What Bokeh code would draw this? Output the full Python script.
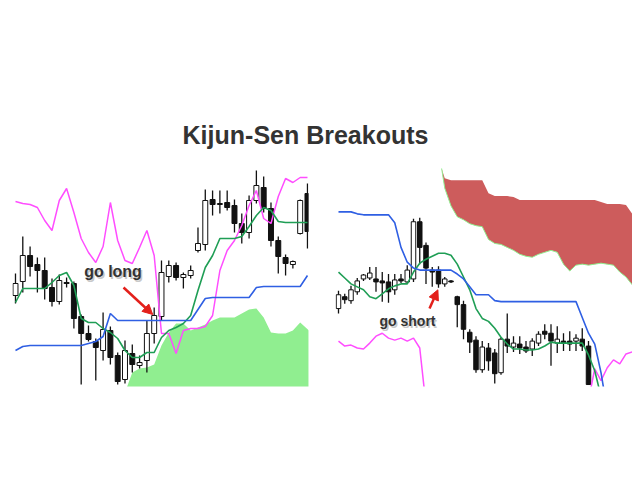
import math
import numpy as np
from bokeh.plotting import figure
from bokeh.layouts import column, row
from bokeh.models import Range1d, Label, Arrow, NormalHead
from bokeh.embed import file_html
from bokeh.resources import INLINE

nan = math.nan

TITLE = "Kijun-Sen Breakouts"
LONG_TEXT = "go long"
SHORT_TEXT = "go short"

# ---------------- Left chart: breakout up (bars 0..40) ----------------
L_open = [105, 119, 145, 136, 130, 113, 99, 118, 117, 84, 67, 59, 50, 70, 45, 21, 47, 35, 40, 67,
          84, 124, 135, 123, 125, 150, 156, 201, 196, 198, 195, 177, 168, 200, 213, 192, 160, 143, 136, 167, 207]
L_high = [127, 164, 154, 143, 143, 122, 126, 123, 119, 86, 75, 62, 88, 74, 48, 60, 56, 45, 80, 93,
          140, 140, 138, 128, 135, 173, 211, 210, 210, 210, 201, 187, 205, 230, 224, 198, 164, 146, 140, 201, 217]
L_low = [97, 108, 124, 108, 101, 94, 96, 113, 72, 16, 59, 20, 40, 36, 16, 17, 28, 32, 28, 57,
         80, 118, 120, 112, 122, 148, 150, 185, 187, 190, 168, 157, 162, 197, 188, 154, 127, 125, 132, 166, 152]
L_close = [117, 145, 134, 130, 112, 99, 120, 117, 82, 67, 61, 53, 71, 43, 19, 50, 36, 38, 67, 85,
           128, 135, 123, 126, 130, 157, 200, 196, 197, 193, 177, 168, 200, 215, 192, 160, 144, 137, 139, 200, 169]
L_kijun = [50, 54, 55, 55, 55, 55, 55, 55, 55, 55, 57, 59, 64, 87, 80, 80, 80, 80, 80, 80,
           80, 80, 80, 80, 80, 91, 102, 103, 103, 103, 103, 103, 103, 113, 114, 114, 114, 114, 114, 114, 125]
L_tenkan = [98, 112, 112, 112, 112, 118, 125, 128, 115, 82, 78, 78, 72, 68, 62, 50, 43, 43, 48, 48,
            63, 70, 73, 77, 85, 110, 133, 145, 162, 162, 162, 164, 174, 185, 193, 190, 179, 178, 178, 178, 178]
L_chikou = [199, 197, 196, 193, 180, 170, 200, 212, 188, 162, 148, 138, 154, 198, 160, 140, 137, 153, 170, 145,
            67, 67, 47, 70, 72, 72, 74, 85, 130, 150, 160, 175, 195, 210, 182, 177, 204, 222, 218, 223, 223]
L_cloud_x = [15.3, 16, 17, 18, 19, 20, 21, 22, 23, 24, 25, 26, 27, 28, 29, 30, 31, 32, 33, 34,
             35, 36, 37, 38, 39, 40.2]
L_cloud_top = [14, 28, 32, 33, 36, 55, 68, 77, 77, 70, 73, 76, 80, 83, 83, 83, 87, 91, 92, 83,
               68, 67, 67, 70, 78, 70]
L_cloud_floor = 0
long_arrow_from = (14.8, 113)
long_arrow_to = (18.8, 86)
long_label_at = (13.36, 129)

# ---------------- Right chart: breakdown (bars 0..40, lines run ahead) ----------------
R_open = [93, 105, 101, 110, 123, 124, 123, 121, 120, 112, 123, 120, 123, 181, 157, 132, 132, 118, 121, 105,
          97, 69, 61, 31, 53, 48, 28, 62, 54, 57, 54, 52, 58, 70, 68, 58, 60, 60, 60, 62, 55]
R_high = [111, 108, 116, 124, 128, 135, 135, 130, 128, 128, 128, 137, 184, 185, 160, 135, 136, 125, 122, 106,
          101, 72, 65, 60, 58, 52, 64, 88, 65, 65, 60, 63, 70, 77, 77, 75, 68, 70, 67, 73, 60]
R_low = [88, 98, 98, 107, 121, 122, 110, 100, 99, 107, 119, 118, 120, 138, 118, 115, 114, 115, 119, 74,
         62, 48, 28, 28, 30, 17, 26, 48, 49, 47, 48, 45, 55, 62, 35, 48, 50, 50, 50, 50, 16]
R_close = [107, 102, 112, 121, 127, 129, 120, 119, 110, 122, 121, 132, 181, 155, 134, 130, 118, 123, 120, 97,
           72, 59, 31, 54, 40, 27, 62, 55, 58, 53, 50, 60, 67, 67, 60, 62, 58, 57, 63, 55, 16]
R_kijun = [191, 191, 191, 189, 188, 188, 188, 188, 188, 180, 155, 140, 134, 132, 132, 132, 132, 132, 132, 128,
           123, 115, 107, 107, 107, 101, 100, 100, 100, 100, 100, 100, 100, 100, 100, 100, 100, 100, 100, 84,
           68, 57, 28, -10]
R_tenkan = [130, 124, 118, 115, 112, 105, 103, 108, 113, 116, 118, 118, 130, 139, 143, 146, 149, 149, 147, 138,
            125, 112, 93, 83, 80, 73, 64, 57, 52, 52, 51, 51, 52, 55, 59, 58, 58, 58, 58, 58,
            46, 30, 4]
R_chikou = [60, 55, 56, 53, 52, 58, 65, 68, 63, 61, 63, 60, 63, 53, -5,
            nan, nan, nan, nan, nan, nan, nan, nan, nan, nan, nan, nan, nan, nan, nan,
            nan, nan, nan, nan, nan, nan, nan, nan, nan, nan,
            0, 32, 20, 33, 41, 37, 47, 49]
R_cloud_x = [16.5, 17, 18, 19, 20, 21, 22, 23, 24, 25, 26, 27, 28, 29, 30, 31, 32, 33, 34, 35,
             36, 37, 38, 39, 40, 41, 42, 43, 44, 45, 46, 47]
R_cloud_top = [235, 225, 223, 223, 223, 223, 223, 223, 210, 207, 207, 207, 206, 203, 203, 203, 203, 203, 203, 203,
               203, 203, 203, 203, 203, 203, 201, 199, 199, 199, 198, 189]
R_cloud_bottom = [235, 215, 197, 186, 183, 179, 177, 176, 163, 159, 158, 155, 152, 148, 146, 145, 148, 150, 152, 150,
                  138, 131, 137, 138, 137, 138, 139, 138, 137, 130, 125, 117]
short_arrow_from = (14.56, 93)
short_arrow_to = (15.9, 112)
short_label_at = (11.04, 80)

# ---------------- styles ----------------
FONT = "Liberation Sans"
BLUE = "#2f5fe3"
GREEN = "#1f9e55"
MAGENTA = "#ff4dff"
RED_CLOUD = "#cd5c5c"
LIGHT_GREEN = "#90ee90"
ARROW_RED = "#e3201b"
INK = "#111111"


def base_fig(w, h, xr, yr, ml, mr, mt, mb):
    p = figure(width=w, height=h, x_range=Range1d(*xr), y_range=Range1d(*yr),
               x_axis_type=None, y_axis_type=None, output_backend="svg",
               toolbar_location=None, min_border_left=ml, min_border_right=mr,
               min_border_top=mt, min_border_bottom=mb)
    p.grid.visible = False
    p.outline_line_color = None
    p.background_fill_color = "white"
    p.border_fill_color = "white"
    return p


def candles(p, o, h, l, c, width):
    o, h, l, c = (np.array(a, dtype=float) for a in (o, h, l, c))
    x = np.arange(len(o))
    up = c > o
    p.segment(x, h, x, l, line_color=INK, line_width=1.3)
    p.vbar(x=x[up], width=width, bottom=o[up], top=c[up], fill_color="white",
           line_color=INK, line_width=1)
    p.vbar(x=x[~up], width=width, bottom=c[~up], top=o[~up], fill_color=INK,
           line_color=INK, line_width=1)


def tag(p, text, at, size):
    shadow = Label(x=at[0], y=at[1], text=text, text_font=FONT, text_font_style="bold",
                   text_font_size=size, text_color="#9a9a9a", text_alpha=0.55,
                   text_align="center", text_baseline="alphabetic", x_offset=1.5, y_offset=-2)
    main = Label(x=at[0], y=at[1], text=text, text_font=FONT, text_font_style="bold",
                 text_font_size=size, text_color="#333333",
                 text_align="center", text_baseline="alphabetic")
    p.add_layout(shadow)
    p.add_layout(main)


def arrow(p, a, b):
    p.add_layout(Arrow(end=NormalHead(size=10, fill_color=ARROW_RED, line_color=ARROW_RED),
                       x_start=a[0], y_start=a[1], x_end=b[0], y_end=b[1],
                       line_color=ARROW_RED, line_width=2.5))


# Title strip (page content starts at the window's top-left corner)
pt = base_fig(632, 160, (0, 1), (0, 1), 0, 0, 0, 0)
pt.add_layout(Label(x=305, y=26, x_units="screen", y_units="screen", text=TITLE,
                    text_font=FONT, text_font_style="bold", text_font_size="25px",
                    text_color="#333333", text_align="center", text_baseline="alphabetic"))

# Left chart: frame spans x 12..308, y 165..386
pl = base_fig(335, 295, (-0.41, 40.14), (14, 235), 12, 27, 5, 69)
pl.varea(x=L_cloud_x, y1=L_cloud_floor, y2=L_cloud_top, fill_color=LIGHT_GREEN)
candles(pl, L_open, L_high, L_low, L_close, 0.68)
xl = np.arange(len(L_kijun))
pl.line(xl, L_chikou, line_color=MAGENTA, line_width=1.5)
pl.line(xl, L_tenkan, line_color=GREEN, line_width=1.6)
pl.line(xl, L_kijun, line_color=BLUE, line_width=1.6)
tag(pl, LONG_TEXT, long_label_at, "16px")
arrow(pl, long_arrow_from, long_arrow_to)

# Right chart: frame spans x 335..632, y 162..386
pr = base_fig(297, 295, (-0.48, 47.04), (14, 238), 0, 0, 2, 69)
pr.varea(x=R_cloud_x, y1=R_cloud_bottom, y2=R_cloud_top, fill_color=RED_CLOUD)
pr.line(R_cloud_x, R_cloud_bottom, line_color=LIGHT_GREEN, line_width=1)
candles(pr, R_open, R_high, R_low, R_close, 0.72)
pr.line(np.arange(len(R_chikou)), R_chikou, line_color=MAGENTA, line_width=1.5)
pr.line(np.arange(len(R_tenkan)), R_tenkan, line_color=GREEN, line_width=1.6)
pr.line(np.arange(len(R_kijun)), R_kijun, line_color=BLUE, line_width=1.6)
tag(pr, SHORT_TEXT, short_label_at, "14px")
arrow(pr, short_arrow_from, short_arrow_to)

layout = column(pt, row(pl, pr))
open("out.html", "w").write(file_html(layout, INLINE))
